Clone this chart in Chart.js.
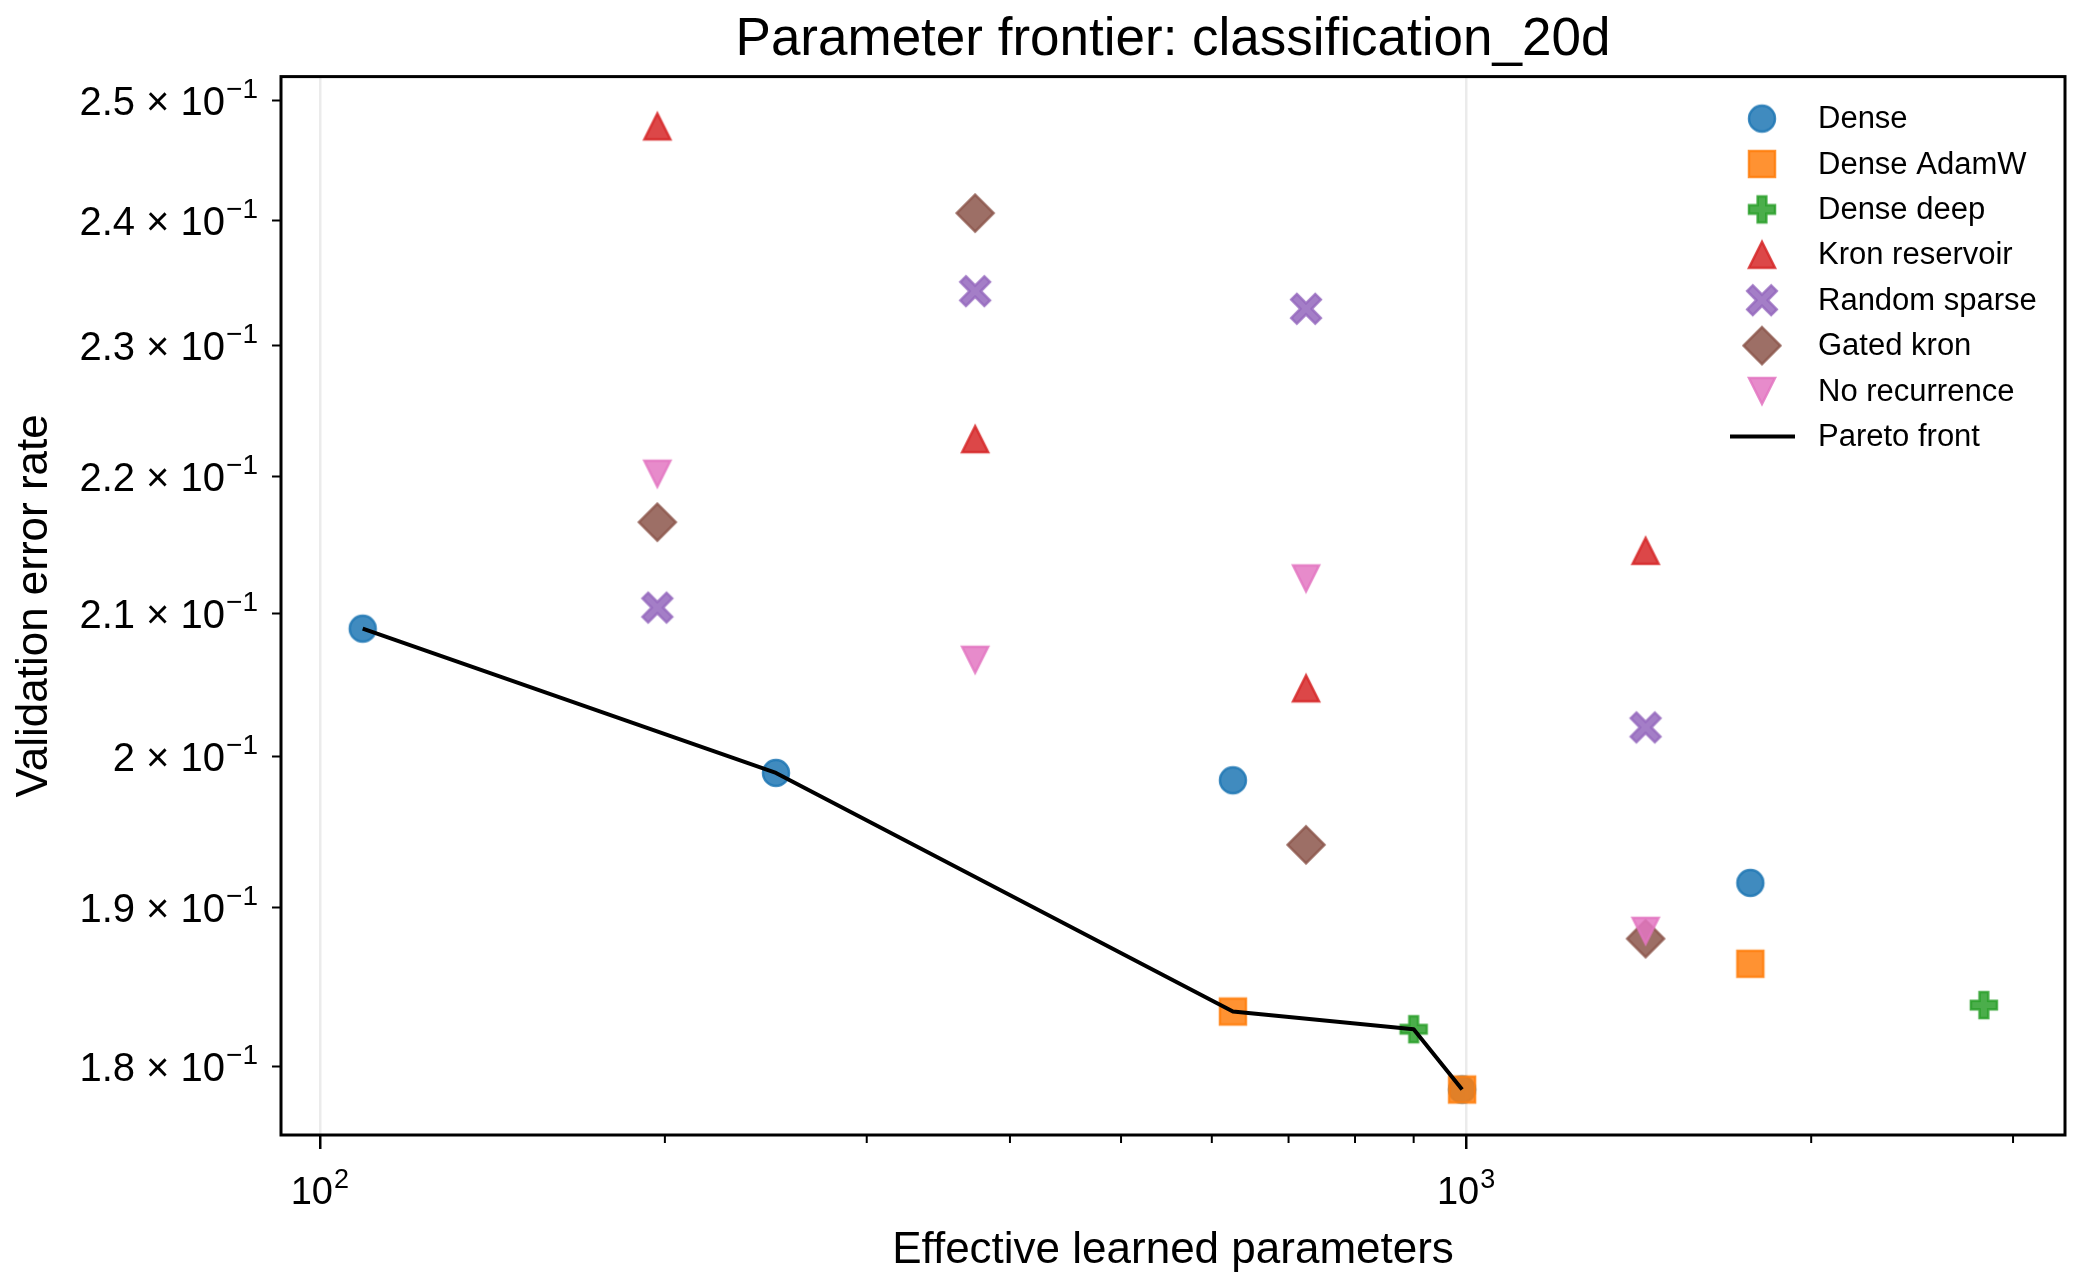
<!DOCTYPE html>
<html>
<head>
<meta charset="utf-8">
<title>Parameter frontier: classification_20d</title>
<script src="https://cdn.jsdelivr.net/npm/chart.js@4/dist/chart.umd.min.js"></script>
<style>
  html, body { margin: 0; padding: 0; background: #fff; }
  #wrap { position: relative; width: 2080px; height: 1284px; }
</style>
</head>
<body>
<div id="wrap"><canvas id="chart"></canvas></div>
<script>
const FONT = '"Liberation Sans", Arial, Helvetica, sans-serif'

// series (x = effective learned parameters, y = validation error rate)
const seriesNames = ['Dense', 'Dense AdamW', 'Dense deep', 'Kron reservoir', 'Random sparse', 'Gated kron', 'No recurrence']
const denseX = [109, 250, 626, 992, 1770]
const denseY = [0.2089, 0.1989, 0.1984, 0.1786, 0.1916]
const adamwX = [626, 992, 1770]
const adamwY = [0.1834, 0.1786, 0.1864]
const deepX = [900, 2829]
const deepY = [0.1823, 0.1838]
const kronX = [197, 373, 725, 1434]
const kronY = [0.2478, 0.2228, 0.2047, 0.2145]
const sparseX = [197, 373, 725, 1434]
const sparseY = [0.2104, 0.2343, 0.2329, 0.2020]
const gatedX = [197, 373, 725, 1434]
const gatedY = [0.2166, 0.2406, 0.1941, 0.1880]
const norecX = [197, 373, 725, 1434]
const norecY = [0.2202, 0.2067, 0.2125, 0.1885]
const paretoX = [109, 250, 626, 900, 992]
const paretoY = [0.2089, 0.1989, 0.1834, 0.1823, 0.1786]

// axes
const xTicks = [100, 200, 300, 400, 500, 600, 700, 800, 900, 1000, 2000, 3000]
const xMajor = [100, 1000]
const xMajorExp = ['2', '3']
const yTicks = [0.18, 0.19, 0.20, 0.21, 0.22, 0.23, 0.24, 0.25]
const yMantissa = ['1.8', '1.9', '2', '2.1', '2.2', '2.3', '2.4', '2.5']
const yExp = '−1'

const seriesX = [denseX, adamwX, deepX, kronX, sparseX, gatedX, norecX]
const seriesY = [denseY, adamwY, deepY, kronY, sparseY, gatedY, norecY]
const shapes = ['o', 's', 'P', '^', 'X', 'D', 'v']
const colors = ['31, 119, 180', '255, 127, 14', '44, 160, 44', '214, 39, 40', '148, 103, 189', '140, 86, 75', '227, 119, 194']

const plusPts = [[-1, -3], [1, -3], [1, -1], [3, -1], [3, 1], [1, 1], [1, 3], [-1, 3], [-1, 1], [-3, 1], [-3, -1], [-1, -1]]

// filled x outline: e = arm reach, d = half arm width / sqrt(2)
function xOutline (e, d) {
  const a = e - d
  const b = e + d
  return [[-a, -b], [0, -2 * d], [a, -b], [b, -a], [2 * d, 0], [b, a], [a, b], [0, 2 * d], [-a, b], [-b, a], [-2 * d, 0], [-b, -a]]
}

function poly (ctx, pts, k) {
  pts.forEach(([px, py], i) => {
    if (i === 0) ctx.moveTo(px * k, py * k)
    else ctx.lineTo(px * k, py * k)
  })
  ctx.closePath()
}

// matplotlib-like filled markers, drawn once into small canvases
function makeMarker (shape, rgb) {
  const size = 26
  const h = size / 2
  const c = document.createElement('canvas')
  c.width = 48
  c.height = 48
  const ctx = c.getContext('2d')
  ctx.translate(24, 24)
  ctx.beginPath()
  if (shape === 'o') ctx.arc(0, 0, h, 0, Math.PI * 2)
  else if (shape === 's') ctx.rect(-h, -h, size, size)
  else if (shape === 'D') poly(ctx, [[0, -1], [1, 0], [0, 1], [-1, 0]], size * Math.SQRT1_2)
  else if (shape === '^') poly(ctx, [[0, -1], [-1, 1], [1, 1]], h)
  else if (shape === 'v') poly(ctx, [[0, 1], [-1, -1], [1, -1]], h)
  else if (shape === 'P') poly(ctx, plusPts, size / 6)
  else if (shape === 'X') poly(ctx, xOutline(12, 2.8), 1)
  ctx.fillStyle = `rgba(${rgb}, 0.85)`
  ctx.fill()
  ctx.lineWidth = 2.5
  ctx.lineJoin = 'miter'
  ctx.strokeStyle = `rgba(${rgb}, 0.85)`
  ctx.stroke()
  return c
}

const markers = shapes.map((s, i) => makeMarker(s, colors[i]))

const datasets = seriesNames.map((name, i) => ({
  label: name,
  data: seriesX[i].map((x, j) => ({ x, y: seriesY[i][j] })),
  pointStyle: markers[i],
  pointRadius: 14,
  pointHoverRadius: 14,
  order: -i
}))
datasets.push({
  label: 'Pareto front',
  data: paretoX.map((x, j) => ({ x, y: paretoY[j] })),
  showLine: true,
  borderColor: '#000',
  borderWidth: 4,
  borderJoinStyle: 'round',
  pointRadius: 0,
  pointHoverRadius: 0,
  order: -10
})

// frame, minor ticks and the mathtext-like tick labels
const framePlugin = {
  id: 'frame',
  afterDraw (chart) {
    const { ctx, chartArea } = chart
    const xs = chart.scales.x
    const ys = chart.scales.y
    ctx.save()
    ctx.strokeStyle = '#000'
    ctx.lineWidth = 2
    xTicks.filter(v => !xMajor.includes(v)).forEach(v => {
      const px = xs.getPixelForValue(v)
      ctx.beginPath()
      ctx.moveTo(px, chartArea.bottom)
      ctx.lineTo(px, chartArea.bottom + 8)
      ctx.stroke()
    })
    ctx.lineWidth = 3
    ctx.strokeRect(chartArea.left, chartArea.top, chartArea.right - chartArea.left, chartArea.bottom - chartArea.top)

    ctx.fillStyle = '#000'
    ctx.textBaseline = 'alphabetic'
    // y labels: "m × 10" with a raised exponent
    const yf = 40
    const right = chartArea.left - 23
    yTicks.forEach((v, i) => {
      const py = ys.getPixelForValue(v)
      const base = py + 0.36 * yf
      ctx.font = `${Math.round(yf * 0.7)}px ${FONT}`
      ctx.textAlign = 'right'
      const ew = ctx.measureText(yExp).width
      ctx.fillText(yExp, right, base - 0.42 * yf)
      ctx.font = `${yf}px ${FONT}`
      ctx.fillText(`${yMantissa[i]} × 10`, right - ew - 1, base)
    })
    // x labels: "10" with a raised exponent
    const xf = 38
    const xBase = chartArea.bottom + 69
    xMajor.forEach((v, i) => {
      const px = xs.getPixelForValue(v)
      ctx.font = `${xf}px ${FONT}`
      const bw = ctx.measureText('10').width
      ctx.font = `${Math.round(xf * 0.7)}px ${FONT}`
      const ew = ctx.measureText(xMajorExp[i]).width
      const x0 = px - (bw + ew + 1) / 2
      ctx.textAlign = 'left'
      ctx.fillText(xMajorExp[i], x0 + bw + 1, xBase - 0.42 * xf)
      ctx.font = `${xf}px ${FONT}`
      ctx.fillText('10', x0, xBase)
    })
    ctx.restore()
  }
}

// legend inside the axes, upper right
const legendPlugin = {
  id: 'insideLegend',
  afterDraw (chart) {
    const { ctx, chartArea } = chart
    const markerX = chartArea.right - 303
    const textX = chartArea.right - 247
    const top = chartArea.top + 42
    const rowH = 45.4
    ctx.save()
    ctx.font = `31px ${FONT}`
    ctx.fillStyle = '#000'
    ctx.textBaseline = 'middle'
    ctx.textAlign = 'left'
    seriesNames.forEach((name, i) => {
      const y = top + i * rowH
      ctx.drawImage(markers[i], markerX - 24, y - 24)
      ctx.fillText(name, textX, y + 1)
    })
    const y = top + seriesNames.length * rowH
    ctx.strokeStyle = '#000'
    ctx.lineWidth = 4
    ctx.beginPath()
    ctx.moveTo(markerX - 32, y)
    ctx.lineTo(markerX + 33, y)
    ctx.stroke()
    ctx.fillText('Pareto front', textX, y + 1)
    ctx.restore()
  }
}

Chart.defaults.font.family = FONT
Chart.defaults.color = '#000'

new Chart(document.getElementById('chart'), {
  type: 'scatter',
  data: { datasets },
  options: {
    responsive: true,
    maintainAspectRatio: false,
    animation: false,
    events: [],
    layout: { padding: { left: 0, right: 13, top: 0, bottom: 0 } },
    plugins: {
      legend: { display: false },
      tooltip: { enabled: false },
      title: {
        display: true,
        fullSize: false,
        text: 'Parameter frontier: classification_20d',
        color: '#000',
        font: { size: 53, weight: 'normal' },
        padding: { top: 9, bottom: 4 }
      }
    },
    scales: {
      x: {
        type: 'logarithmic',
        min: 92.5,
        max: 3330,
        afterFit: (scale) => { scale.height = 149 },
        afterBuildTicks: (scale) => { scale.ticks = xTicks.map(v => ({ value: v })) },
        ticks: { display: false, autoSkip: false, maxRotation: 0 },
        grid: {
          color: (ctx) => (ctx.tick && xMajor.includes(ctx.tick.value)) ? '#ebebeb' : 'rgba(0,0,0,0)',
          lineWidth: 2.5,
          tickColor: (ctx) => (ctx.tick && xMajor.includes(ctx.tick.value)) ? '#000' : 'rgba(0,0,0,0)',
          tickLength: 14,
          tickWidth: 2.5
        },
        border: { display: false },
        title: {
          display: true,
          text: 'Effective learned parameters',
          color: '#000',
          font: { size: 44 },
          padding: { top: 0, bottom: 7 }
        }
      },
      y: {
        type: 'logarithmic',
        min: 0.17586,
        max: 0.25203,
        afterFit: (scale) => { scale.width = 281 },
        afterBuildTicks: (scale) => { scale.ticks = yTicks.map(v => ({ value: v })) },
        ticks: { display: false, autoSkip: false },
        grid: {
          drawOnChartArea: false,
          tickLength: 9,
          tickWidth: 2,
          tickColor: '#000'
        },
        border: { display: false },
        title: {
          display: true,
          text: 'Validation error rate',
          color: '#000',
          font: { size: 44 },
          padding: { top: 8, bottom: 0 }
        }
      }
    }
  },
  plugins: [framePlugin, legendPlugin]
})
</script>
</body>
</html>
